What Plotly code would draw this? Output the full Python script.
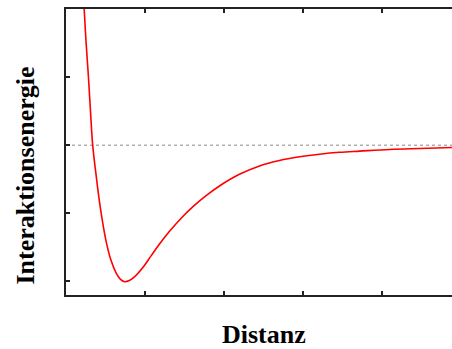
import plotly.graph_objects as go

# Curve samples (x: distance units, y: energy units)
distance = [0.220, 0.230, 0.255, 0.284, 0.310, 0.338, 0.378, 0.433, 0.505, 0.569,
            0.636, 0.687, 0.746, 0.801, 0.863, 0.927, 0.991, 1.080, 1.182, 1.309,
            1.474, 1.626, 1.779, 1.944, 2.197, 2.451, 2.705, 2.959, 3.213, 3.467,
            3.721, 4.102, 4.483, 4.889]
energy = [2.29, 2.004, 1.50, 1.004, 0.504, 0.0, -0.407, -0.903, -1.393, -1.687,
          -1.878, -1.966, -2.006, -1.988, -1.937, -1.860, -1.770, -1.622, -1.455, -1.268,
          -1.054, -0.885, -0.737, -0.599, -0.428, -0.304, -0.224, -0.171, -0.132, -0.104,
          -0.087, -0.063, -0.049, -0.035]

x_range = [0.0, 4.89]
y_range = [-2.2, 2.0]
x_ticks = [1, 2, 3, 4]
y_ticks = [-2, -1, 0, 1]
zero_line = [0.0, 0.0]

fig = go.Figure()
fig.add_trace(go.Scatter(x=x_range, y=zero_line, mode="lines",
                         line=dict(color="#888888", width=1, dash="dot"),
                         hoverinfo="skip", showlegend=False))
fig.add_trace(go.Scatter(x=distance, y=energy, mode="lines",
                         line=dict(color="#ff0000", width=1.6, shape="spline", smoothing=1.0),
                         showlegend=False))

axis_common = dict(showgrid=False, zeroline=False, showline=True, linecolor="#222222",
                   linewidth=2, ticks="inside", ticklen=4, tickwidth=2, tickcolor="#222222",
                   showticklabels=False)
fig.update_xaxes(range=x_range, tickvals=x_ticks, mirror="ticks", **axis_common)
fig.update_yaxes(range=y_range, tickvals=y_ticks, **axis_common)

font = dict(family="Liberation Serif", size=26, color="black")
fig.update_layout(
    width=452, height=349,
    margin=dict(l=66, r=0, t=9, b=54),
    paper_bgcolor="white", plot_bgcolor="white",
    annotations=[
        dict(text="<b>Interaktionsenergie</b>", xref="paper", yref="paper",
             x=-0.106, y=0.418, xanchor="center", yanchor="middle",
             textangle=-90, showarrow=False, font=font),
        dict(text="<b>Distanz</b>", xref="paper", yref="paper",
             x=0.513, y=-0.137, xanchor="center", yanchor="middle",
             showarrow=False, font=font),
    ],
)
fig.write_html("out.html", config={"displayModeBar": False},
               post_script="document.body.style.margin='0';document.body.style.overflow='hidden';")
